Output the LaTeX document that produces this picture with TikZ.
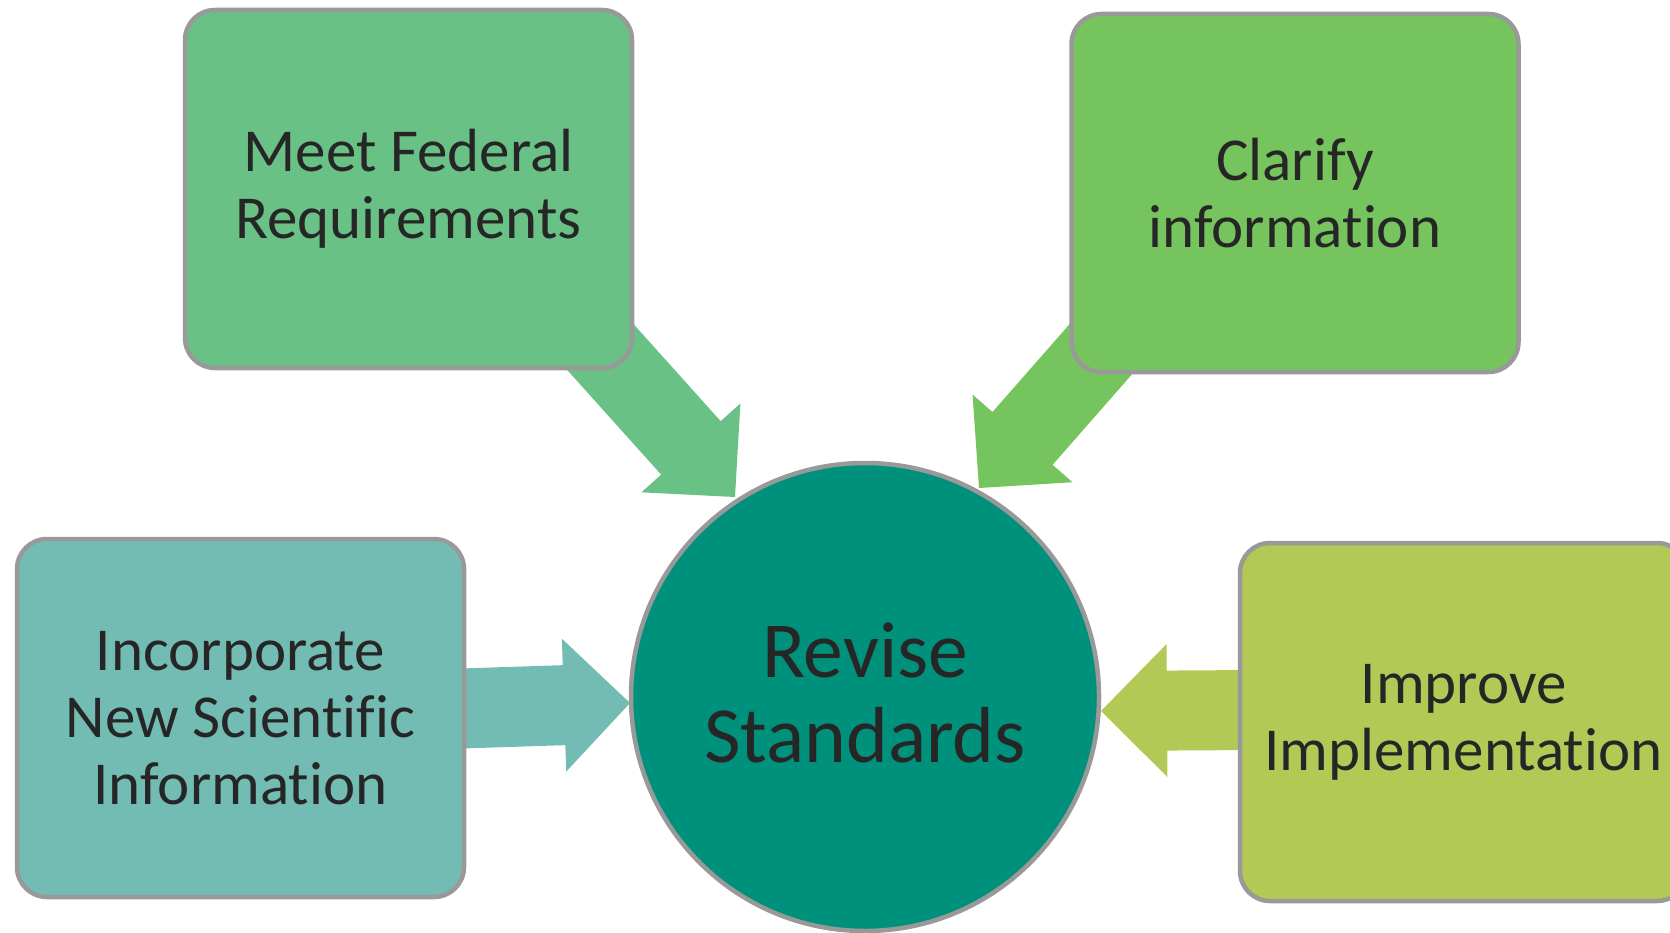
\documentclass[tikz,border=0pt]{standalone}
\usepackage{fontspec}
\setmainfont{Carlito}[Ligatures={NoCommon,NoContextual}]
\usetikzlibrary{calc}
\definecolor{cfed}{HTML}{69C186}
\definecolor{cclar}{HTML}{76C45E}
\definecolor{cinc}{HTML}{72BCB3}
\definecolor{cimp}{HTML}{B2CA55}
\definecolor{chub}{HTML}{00917C}
\definecolor{cstroke}{HTML}{999999}
\definecolor{ctxt}{HTML}{262626}
\tikzset{
  box/.style={draw=cstroke, line width=4.5pt, rounded corners=30pt,
    minimum width=447pt, minimum height=358pt, inner sep=0pt,
    align=center, text=ctxt, font=\fontsize{61}{67}\selectfont},
  hub/.style={circle, draw=cstroke, line width=4.5pt, fill=chub,
    minimum size=468pt, inner sep=0pt},
  hubtext/.style={text=ctxt, align=center, inner sep=0pt,
    font=\fontsize{79.5}{85}\selectfont},
}
\newcommand\blockarrow[3]{%
  \coordinate (ba-b) at ($(#3)!66pt!(#2)$);
  \fill[#1] ($(#2)!40pt!90:(#3)$) -- ($(ba-b)!40pt!90:(#3)$)
    -- ($(ba-b)!66.5pt!90:(#3)$) -- (#3)
    -- ($(ba-b)!66.5pt!-90:(#3)$) -- ($(ba-b)!40pt!-90:(#3)$)
    -- ($(#2)!40pt!-90:(#3)$) -- cycle;}
\begin{document}
\begin{tikzpicture}[x=1pt,y=-1pt]
\useasboundingbox (0,0) rectangle (1670,933);
\clip (0,0) rectangle (1670,933);
% arrow end points
\coordinate (s1) at (568,311);  \coordinate (t1) at (735,497);
\coordinate (s2) at (1144,300); \coordinate (t2) at (979,488);
\coordinate (s3) at (400,710.5); \coordinate (t3) at (630,703);
\coordinate (s4) at (1330,709.5); \coordinate (t4) at (1101,711);
\blockarrow{cfed}{s1}{t1}
\blockarrow{cclar}{s2}{t2}
\blockarrow{cinc}{s3}{t3}
\blockarrow{cimp}{s4}{t4}
% boxes
\node[box, fill=cfed] (fed) at (408.5,189) {Meet Federal\\Requirements};
\node[box, fill=cclar] (clar) at (1295,193) {Clarify\\information};
\node[box, fill=cinc] (inc) at (240.5,718) {Incorporate\\New Scientific\\Information};
\node[box, fill=cimp] (imp) at (1463.5,722) {Improve\\Implementation};
\node[hub] (rev) at (865,697) {};
\node[hubtext] (revtext) at (865,693) {Revise\\Standards};
\end{tikzpicture}
\end{document}
